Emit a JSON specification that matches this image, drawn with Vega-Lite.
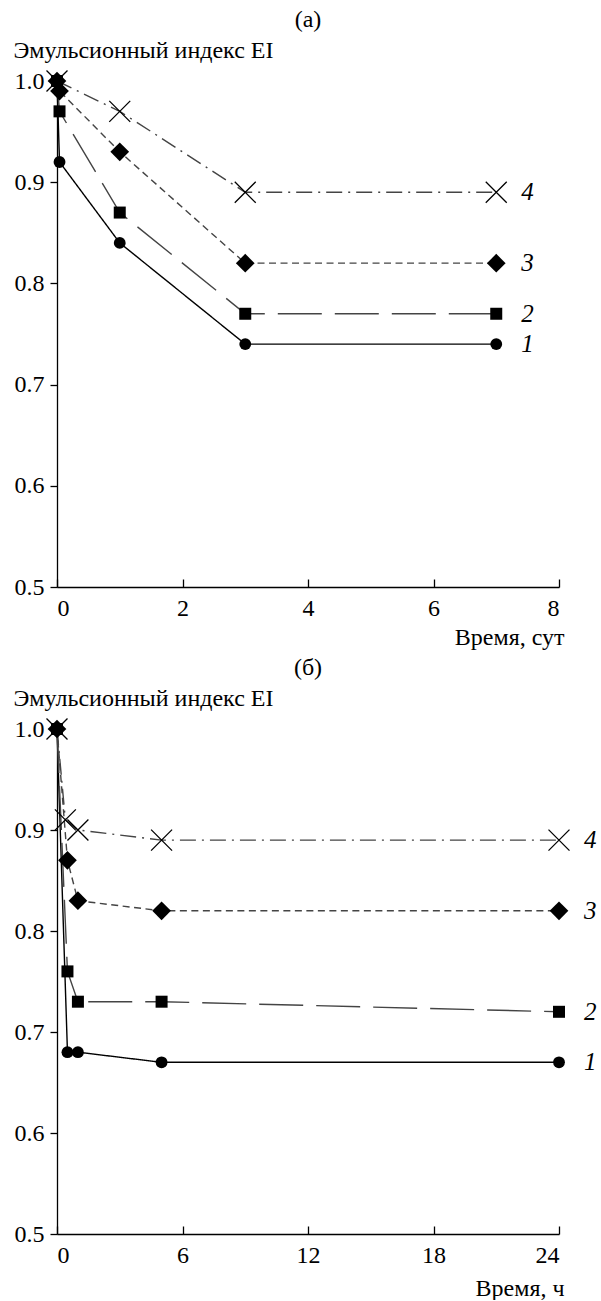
{
  "$schema": "https://vega.github.io/schema/vega-lite/v6.json",
  "padding": {"left": 13, "top": 8, "right": 0, "bottom": 0},
  "background": "white",
  "config": {
    "view": {"stroke": null},
    "font": "Liberation Serif"
  },
  "datasets": {
    "days": [
      {"s": "1", "t": 0, "v": 1.0}, {"s": "1", "t": 0.04, "v": 0.92}, {"s": "1", "t": 1, "v": 0.84}, {"s": "1", "t": 3, "v": 0.74}, {"s": "1", "t": 7, "v": 0.74},
      {"s": "2", "t": 0, "v": 1.0}, {"s": "2", "t": 0.04, "v": 0.97}, {"s": "2", "t": 1, "v": 0.87}, {"s": "2", "t": 3, "v": 0.77}, {"s": "2", "t": 7, "v": 0.77},
      {"s": "3", "t": 0, "v": 1.0}, {"s": "3", "t": 0.04, "v": 0.99}, {"s": "3", "t": 1, "v": 0.93}, {"s": "3", "t": 3, "v": 0.82}, {"s": "3", "t": 7, "v": 0.82},
      {"s": "4", "t": 0, "v": 1.0}, {"s": "4", "t": 1, "v": 0.97}, {"s": "4", "t": 3, "v": 0.89}, {"s": "4", "t": 7, "v": 0.89}
    ],
    "hours": [
      {"s": "1", "t": 0, "v": 1.0}, {"s": "1", "t": 0.5, "v": 0.68}, {"s": "1", "t": 1, "v": 0.68}, {"s": "1", "t": 5, "v": 0.67}, {"s": "1", "t": 24, "v": 0.67},
      {"s": "2", "t": 0, "v": 1.0}, {"s": "2", "t": 0.5, "v": 0.76}, {"s": "2", "t": 1, "v": 0.73}, {"s": "2", "t": 5, "v": 0.73}, {"s": "2", "t": 24, "v": 0.72},
      {"s": "3", "t": 0, "v": 1.0}, {"s": "3", "t": 0.5, "v": 0.87}, {"s": "3", "t": 1, "v": 0.83}, {"s": "3", "t": 5, "v": 0.82}, {"s": "3", "t": 24, "v": 0.82},
      {"s": "4", "t": 0, "v": 1.0}, {"s": "4", "t": 0.4, "v": 0.91}, {"s": "4", "t": 1, "v": 0.90}, {"s": "4", "t": 5, "v": 0.89}, {"s": "4", "t": 24, "v": 0.89}
    ]
  },
  "bounds": "flush",
  "spacing": 142,
  "vconcat": [
    {
      "title": {"text": "(а)", "anchor": "middle", "offset": 6, "font": "Liberation Serif", "fontSize": 24, "fontWeight": "normal", "color": "black"},
      "width": 502,
      "height": 506,
      "data": {"name": "days"},
      "encoding": {
        "x": {"field": "t", "type": "quantitative", "scale": {"domain": [0, 8], "nice": false},
          "axis": {"title": "Время, сут", "values": [0, 2, 4, 6, 8], "tickSize": -8, "labelPadding": 17, "grid": false,
            "labelFont": "Liberation Serif", "labelFontSize": 24, "labelColor": "black",
            "titleFont": "Liberation Serif", "titleFontSize": 24, "titleFontWeight": "normal", "titleColor": "black",
            "domainColor": "black", "tickColor": "black", "domainWidth": 1.3, "tickWidth": 1.3,
            "titleAnchor": null, "titleAlign": "right", "titleBaseline": "alphabetic", "titleX": 507, "titleY": 57}},
        "y": {"field": "v", "type": "quantitative", "scale": {"domain": [0.5, 1.0], "nice": false, "zero": false},
          "axis": {"title": "Эмульсионный индекс EI", "values": [0.5, 0.6, 0.7, 0.8, 0.9, 1.0], "format": ".1f", "grid": false,
            "labelFont": "Liberation Serif", "labelFontSize": 24, "labelColor": "black",
            "titleFont": "Liberation Serif", "titleFontSize": 24, "titleFontWeight": "normal", "titleColor": "black",
            "domainColor": "black", "tickColor": "black", "domainWidth": 1.3, "tickWidth": 1.3,
            "tickSize": 7, "labelPadding": 6, "titleAngle": 0, "titleAnchor": null, "titleAlign": "left",
            "titleBaseline": "alphabetic", "titleX": -44, "titleY": -24}}
      },
      "layer": [
        {
          "mark": {"type": "line", "strokeWidth": 1.4},
          "encoding": {
            "detail": {"field": "s"},
            "stroke": {"field": "s", "type": "nominal", "scale": {"domain": ["1", "2", "3", "4"], "range": ["#000000", "#444444", "#444444", "#444444"]}, "legend": null},
            "strokeDash": {"field": "s", "type": "nominal", "scale": {"domain": ["1", "2", "3", "4"], "range": [[1, 0], [44, 13], [7, 4.5], [16, 6, 2, 6]]}, "legend": null}
          }
        },
        {
          "transform": [{"filter": "datum.s == '1'"}],
          "mark": {"type": "point", "shape": "circle", "filled": true, "opacity": 1, "color": "black", "size": 140}
        },
        {
          "transform": [{"filter": "datum.s == '2'"}],
          "mark": {"type": "point", "shape": "square", "filled": true, "opacity": 1, "color": "black", "size": 144}
        },
        {
          "transform": [{"filter": "datum.s == '3'"}],
          "mark": {"type": "point", "shape": "M-1,0L0,-1L1,0L0,1Z", "filled": true, "opacity": 1, "color": "black", "size": 350}
        },
        {
          "transform": [{"filter": "datum.s == '4'"}],
          "mark": {"type": "point", "shape": "M-1,-1L1,1M-1,1L1,-1", "filled": false, "size": 440, "stroke": "black", "strokeWidth": 1.3, "opacity": 1}
        },
        {
          "transform": [{"filter": "datum.t == 7"}],
          "mark": {"type": "text", "align": "left", "baseline": "middle", "dx": 25, "fontStyle": "italic", "fontSize": 25, "font": "Liberation Serif", "color": "black"},
          "encoding": {"text": {"field": "s"}}
        }
      ]
    },
    {
      "title": {"text": "(б)", "anchor": "middle", "offset": 6, "font": "Liberation Serif", "fontSize": 24, "fontWeight": "normal", "color": "black"},
      "width": 502,
      "height": 505,
      "data": {"name": "hours"},
      "encoding": {
        "x": {"field": "t", "type": "quantitative", "scale": {"domain": [0, 24], "nice": false},
          "axis": {"title": "Время, ч", "values": [0, 6, 12, 18, 24], "tickSize": -8, "labelPadding": 17, "grid": false,
            "labelFont": "Liberation Serif", "labelFontSize": 24, "labelColor": "black",
            "titleFont": "Liberation Serif", "titleFontSize": 24, "titleFontWeight": "normal", "titleColor": "black",
            "domainColor": "black", "tickColor": "black", "domainWidth": 1.3, "tickWidth": 1.3,
            "titleAnchor": null, "titleAlign": "right", "titleBaseline": "alphabetic", "titleX": 507, "titleY": 61}},
        "y": {"field": "v", "type": "quantitative", "scale": {"domain": [0.5, 1.0], "nice": false, "zero": false},
          "axis": {"title": "Эмульсионный индекс EI", "values": [0.5, 0.6, 0.7, 0.8, 0.9, 1.0], "format": ".1f", "grid": false,
            "labelFont": "Liberation Serif", "labelFontSize": 24, "labelColor": "black",
            "titleFont": "Liberation Serif", "titleFontSize": 24, "titleFontWeight": "normal", "titleColor": "black",
            "domainColor": "black", "tickColor": "black", "domainWidth": 1.3, "tickWidth": 1.3,
            "tickSize": 7, "labelPadding": 6, "titleAngle": 0, "titleAnchor": null, "titleAlign": "left",
            "titleBaseline": "alphabetic", "titleX": -44, "titleY": -24}}
      },
      "layer": [
        {
          "mark": {"type": "line", "strokeWidth": 1.4},
          "encoding": {
            "detail": {"field": "s"},
            "stroke": {"field": "s", "type": "nominal", "scale": {"domain": ["1", "2", "3", "4"], "range": ["#000000", "#444444", "#444444", "#444444"]}, "legend": null},
            "strokeDash": {"field": "s", "type": "nominal", "scale": {"domain": ["1", "2", "3", "4"], "range": [[1, 0], [44, 13], [7, 4.5], [16, 6, 2, 6]]}, "legend": null}
          }
        },
        {
          "transform": [{"filter": "datum.s == '1'"}],
          "mark": {"type": "point", "shape": "circle", "filled": true, "opacity": 1, "color": "black", "size": 140}
        },
        {
          "transform": [{"filter": "datum.s == '2'"}],
          "mark": {"type": "point", "shape": "square", "filled": true, "opacity": 1, "color": "black", "size": 144}
        },
        {
          "transform": [{"filter": "datum.s == '3'"}],
          "mark": {"type": "point", "shape": "M-1,0L0,-1L1,0L0,1Z", "filled": true, "opacity": 1, "color": "black", "size": 350}
        },
        {
          "transform": [{"filter": "datum.s == '4'"}],
          "mark": {"type": "point", "shape": "M-1,-1L1,1M-1,1L1,-1", "filled": false, "size": 440, "stroke": "black", "strokeWidth": 1.3, "opacity": 1}
        },
        {
          "transform": [{"filter": "datum.t == 24"}],
          "mark": {"type": "text", "align": "left", "baseline": "middle", "dx": 25, "fontStyle": "italic", "fontSize": 25, "font": "Liberation Serif", "color": "black"},
          "encoding": {"text": {"field": "s"}}
        }
      ]
    }
  ]
}
